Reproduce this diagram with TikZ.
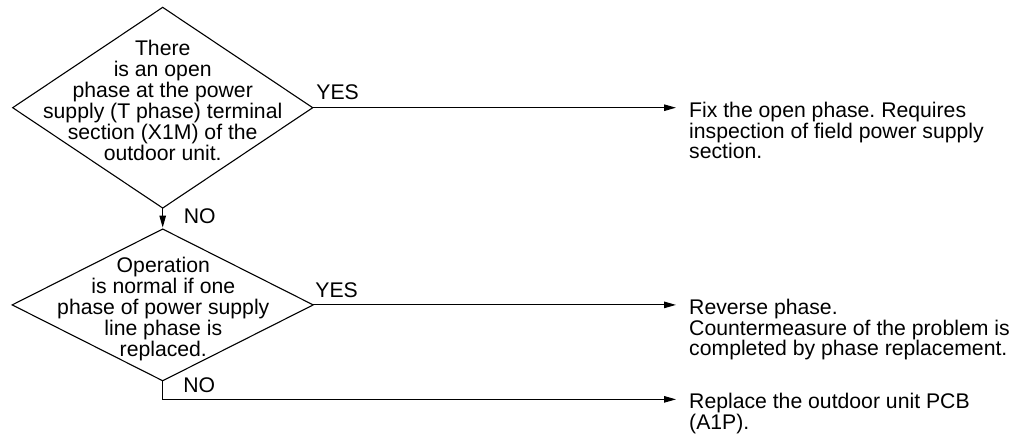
\documentclass[tikz,border=0pt]{standalone}
\usepackage{fontspec}
\setmainfont{Liberation Sans}
\usetikzlibrary{shapes.geometric,arrows.meta,positioning}
\frenchspacing

\begin{document}
\begin{tikzpicture}[
  x=1pt, y=-1pt,
  decision/.style={draw, diamond, line width=1.1pt, inner sep=0pt,
                   outer sep=0pt, minimum width=300pt},
  qtext/.style={align=center, inner sep=0pt, anchor=north,
                font={\fontsize{21.2}{21}\selectfont}},
  result/.style={align=left, inner sep=0pt, anchor=north west,
                 font={\fontsize{21.2}{20.6}\selectfont}},
  lbl/.style={anchor=base west, inner sep=0pt,
              font={\fontsize{21.2}{21}\selectfont}},
  arr/.style={-{Triangle[length=12pt,width=6.5pt]}, line width=1.1pt},
  node distance=21pt
]
  \useasboundingbox (0,0) rectangle (1023,434);
  % questions
  \node[decision, minimum height=200.7pt] (q1) at (162.7,107.7) {};
  \node[decision, minimum width=301pt, minimum height=151.7pt, below=of q1] (q2) {};
  \node[qtext] (q1t) at (162.7,40) {There\\is an open\\phase at the power\\supply (T phase) terminal\\section (X1M) of the\\outdoor unit.};
  \node[qtext] (q2t) at (163.3,256.5) {Operation\\is normal if one\\phase of power supply\\line phase is\\replaced.};
  % results
  \node[result] (a1) at (689,102) {Fix the open phase. Requires\\inspection of field power supply\\section.};
  \node[result] (a2) at (689,299) {Reverse phase.\\Countermeasure of the problem is\\completed by phase replacement.};
  \node[result] (a3) at (689,393) {Replace the outdoor unit PCB\\(A1P).};
  \coordinate[below=18.6pt of q2.south] (bend);
  % connectors
  \draw[arr, shorten >=13pt] (q1.east) -- (q1.east -| a1.west);
  \draw[arr, shorten >=1.5pt] (q1.south) -- (q2.north);
  \draw[arr, shorten >=13pt] (q2.east) -- (q2.east -| a2.west);
  \draw[arr, shorten >=13pt] (q2.south) -- (bend) -- (bend -| a3.west);
  \node[lbl] (yes1) at ([xshift=3.5pt, yshift=8pt]q1.east) {YES};
  \node[lbl] (no1) at ([xshift=21pt, yshift=-15pt]q1.south) {NO};
  \node[lbl] (yes2) at ([xshift=2pt, yshift=7.6pt]q2.east) {YES};
  \node[lbl] (no2) at ([xshift=20.5pt, yshift=7.3pt]bend) {NO};
\end{tikzpicture}
\end{document}
